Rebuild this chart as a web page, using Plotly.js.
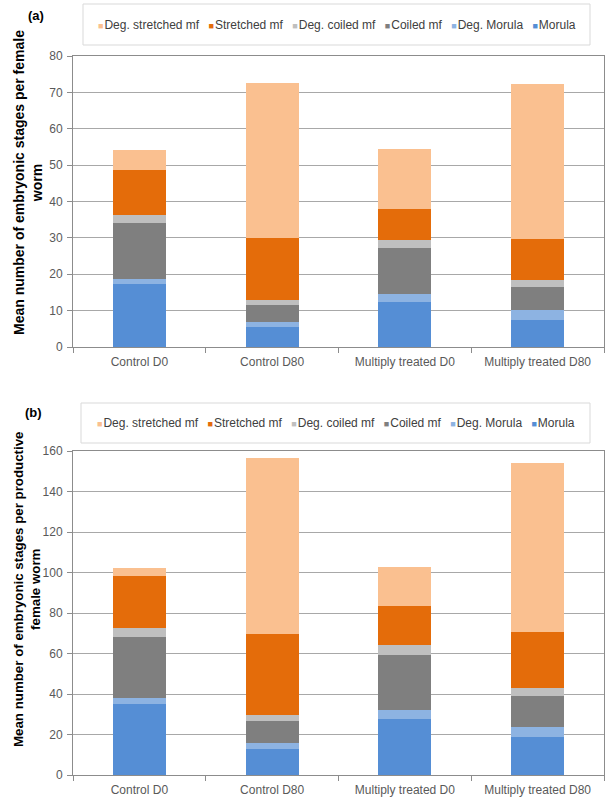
<!DOCTYPE html>
<html>
<head>
<meta charset="utf-8">
<script src="https://cdn.plot.ly/plotly-3.0.1.min.js"></script>
<style>html,body{margin:0;padding:0;background:#fff;}#chart{width:610px;height:805px;}</style>
</head>
<body>
<div id="chart"></div>
<script>
// ---- Data ----
const categories = ['Control D0', 'Control D80', 'Multiply treated D0', 'Multiply treated D80'];
const seriesNames = ['Morula', 'Deg. Morula', 'Coiled mf', 'Deg. coiled mf', 'Stretched mf', 'Deg. stretched mf'];
const seriesColors = ['#558ed5', '#8db3e2', '#7f7f7f', '#bfbfbf', '#e46c0a', '#fac090'];

// Panel (a): per female worm
const morulaA       = [17.2, 5.5, 12.5, 7.3];
const degMorulaA    = [1.6, 1.4, 2.2, 3.0];
const coiledA       = [15.2, 4.75, 12.4, 6.1];
const degCoiledA    = [2.2, 1.35, 2.3, 2.1];
const stretchedA    = [12.5, 17.1, 8.5, 11.3];
const degStretchedA = [5.4, 42.5, 16.6, 42.6];

// Panel (b): per productive female worm
const morulaB       = [34.9, 12.7, 27.5, 18.6];
const degMorulaB    = [3.0, 2.9, 4.8, 5.1];
const coiledB       = [30.4, 11.1, 27.0, 15.2];
const degCoiledB    = [4.1, 2.9, 4.9, 3.9];
const stretchedB    = [25.7, 39.9, 19.1, 27.7];
const degStretchedB = [4.1, 86.9, 19.6, 83.4];

const yTitleA = 'Mean number of embryonic stages per female<br>worm';
const yTitleB = 'Mean number of embryonic stages per productive<br>female worm';

// ---- Build figure ----
const W = 610, H = 805;
const px = v => v / W;
const py = v => 1 - v / H;
const FONT = 'Liberation Sans, Arial, sans-serif';

const seriesA = [morulaA, degMorulaA, coiledA, degCoiledA, stretchedA, degStretchedA];
const seriesB = [morulaB, degMorulaB, coiledB, degCoiledB, stretchedB, degStretchedB];

const traces = [];
seriesA.forEach((vals, i) => traces.push({
  type: 'bar', x: categories, y: vals, name: seriesNames[i],
  marker: {color: seriesColors[i], line: {width: 0}}, xaxis: 'x', yaxis: 'y', hoverinfo: 'none'
}));
seriesB.forEach((vals, i) => traces.push({
  type: 'bar', x: categories, y: vals, name: seriesNames[i],
  marker: {color: seriesColors[i], line: {width: 0}}, xaxis: 'x2', yaxis: 'y2', hoverinfo: 'none'
}));

const axisLine = '#8c8c8c';
const gridCol = '#a8a8a8';
const tickFont = {family: FONT, size: 12, color: '#595959'};

function xAxis(anchor) {
  return {
    domain: [px(73), px(604)], anchor: anchor, type: 'category',
    tickson: 'boundaries', ticks: 'outside', ticklen: 5, tickcolor: axisLine,
    showline: true, linecolor: axisLine, linewidth: 1, mirror: true,
    showgrid: false, zeroline: false, tickfont: tickFont, automargin: false,
    ticklabelstandoff: 4, fixedrange: true
  };
}
function yAxis(anchor, top, bottom, max, dtick) {
  return {
    domain: [py(bottom), py(top)], anchor: anchor, range: [0, max], dtick: dtick,
    ticks: 'outside', ticklen: 5, tickcolor: axisLine,
    showline: true, linecolor: axisLine, linewidth: 1, mirror: true,
    showgrid: true, gridcolor: gridCol, gridwidth: 1, zeroline: false,
    tickfont: tickFont, automargin: false, ticklabelstandoff: 2, fixedrange: true
  };
}

// Legend rows (reverse stacking order, as in the reference)
function legendText() {
  const order = [5, 4, 3, 2, 1, 0];
  return order.map(i => '<span style="color:' + seriesColors[i] + ';font-size:9px">\u25A0</span>\u200A' + seriesNames[i]).join('\u2002 ');
}

const legendFont = {family: FONT, size: 12, color: '#404040'};

const layout = {
  width: W, height: H,
  margin: {l: 0, r: 0, t: 0, b: 0},
  paper_bgcolor: '#ffffff', plot_bgcolor: '#ffffff',
  barmode: 'stack', bargap: 0.6, showlegend: false,
  font: {family: FONT},
  xaxis: xAxis('y'),
  yaxis: yAxis('x', 56, 347, 80, 10),
  xaxis2: xAxis('y2'),
  yaxis2: yAxis('x2', 451, 775, 160, 20),
  shapes: [
    {type: 'rect', xref: 'paper', yref: 'paper', x0: px(83), x1: px(590), y0: py(45), y1: py(4),
     line: {color: '#d9d9d9', width: 1}, fillcolor: 'rgba(0,0,0,0)', layer: 'above'},
    {type: 'rect', xref: 'paper', yref: 'paper', x0: px(81), x1: px(590), y0: py(443), y1: py(403),
     line: {color: '#d9d9d9', width: 1}, fillcolor: 'rgba(0,0,0,0)', layer: 'above'}
  ],
  annotations: [
    {xref: 'paper', yref: 'paper', x: px(337), y: py(24.5), xanchor: 'center', yanchor: 'middle',
     text: legendText(), showarrow: false, font: legendFont},
    {xref: 'paper', yref: 'paper', x: px(336), y: py(423), xanchor: 'center', yanchor: 'middle',
     text: legendText(), showarrow: false, font: legendFont},
    {xref: 'paper', yref: 'paper', x: px(36), y: py(15.5), xanchor: 'center', yanchor: 'middle',
     text: '<b>(a)</b>', showarrow: false, font: {family: FONT, size: 13, color: '#000'}},
    {xref: 'paper', yref: 'paper', x: px(33), y: py(412), xanchor: 'center', yanchor: 'middle',
     text: '<b>(b)</b>', showarrow: false, font: {family: FONT, size: 13, color: '#000'}},
    {xref: 'paper', yref: 'paper', x: px(28), y: py(183), xanchor: 'center', yanchor: 'middle',
     text: '<b>' + yTitleA.replace('<br>', '</b><br><b>') + '</b>', textangle: -90, showarrow: false,
     font: {family: FONT, size: 14, color: '#000'}},
    {xref: 'paper', yref: 'paper', x: px(27), y: py(589), xanchor: 'center', yanchor: 'middle',
     text: '<b>' + yTitleB.replace('<br>', '</b><br><b>') + '</b>', textangle: -90, showarrow: false,
     font: {family: FONT, size: 13.3, color: '#000'}}
  ]
};

Plotly.newPlot('chart', traces, layout, {staticPlot: true, displayModeBar: false});
</script>
</body>
</html>
